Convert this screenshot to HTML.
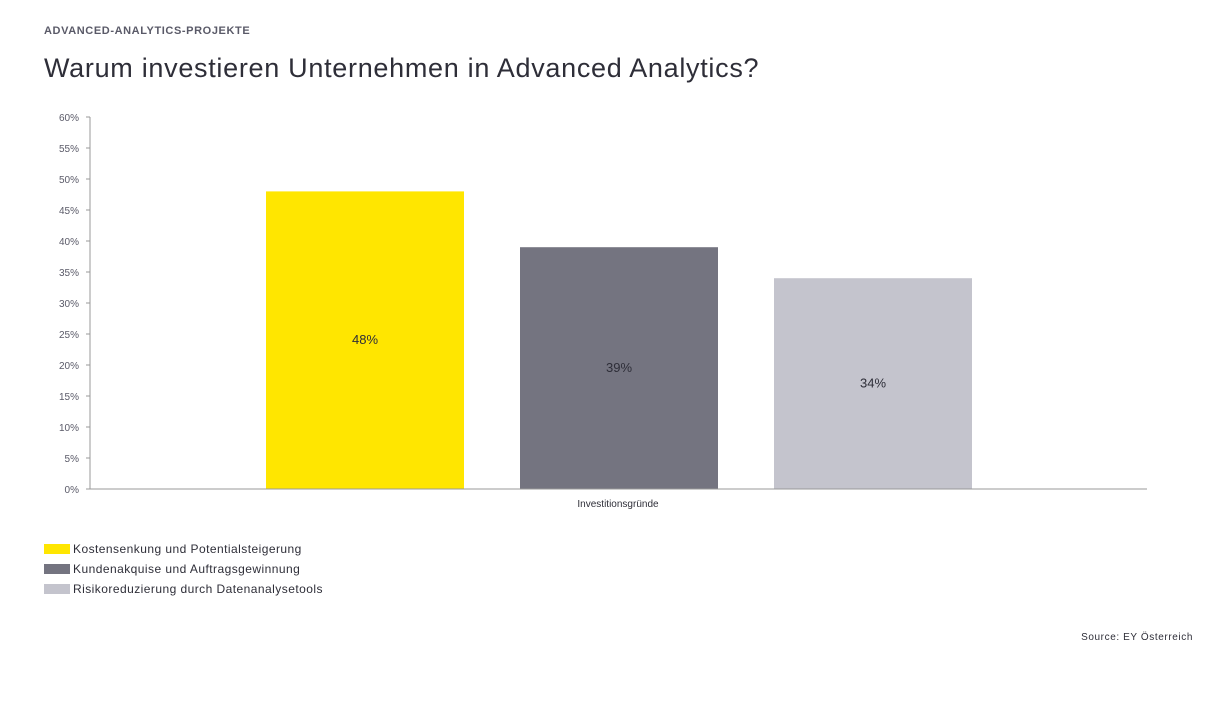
<!DOCTYPE html>
<html><head><meta charset="utf-8"><style>
body{margin:0;width:1207px;height:720px;background:#fff;font-family:"Liberation Sans",sans-serif;position:relative;overflow:hidden}
.kick{position:absolute;left:44px;top:25px;font-size:11px;font-weight:bold;letter-spacing:0.6px;color:#5a5a68}
.title{position:absolute;left:44px;top:53px;font-size:27px;letter-spacing:0.7px;color:#2e2e38}
.leg{position:absolute;left:44px;font-size:12px;letter-spacing:0.45px;color:#2e2e38;height:14px;line-height:14px}
.leg span{display:inline-block;width:26px;height:10px;vertical-align:-1px;margin-right:3px}
.src{position:absolute;right:14px;top:632px;font-size:10px;letter-spacing:0.6px;color:#2e2e38}
</style></head><body>
<div class="kick">ADVANCED-ANALYTICS-PROJEKTE</div>
<div class="title">Warum investieren Unternehmen in Advanced Analytics?</div>
<svg id="chart" width="1207" height="720" style="position:absolute;left:0;top:0"></svg>
<div class="leg" style="top:542px"><span style="background:#ffe600"></span>Kostensenkung und Potentialsteigerung</div>
<div class="leg" style="top:562px"><span style="background:#747480"></span>Kundenakquise und Auftragsgewinnung</div>
<div class="leg" style="top:582px"><span style="background:#c4c4cd"></span>Risikoreduzierung durch Datenanalysetools</div>
<div class="src">Source: EY Österreich</div>
<script>
const categories=["Kostensenkung und Potentialsteigerung","Kundenakquise und Auftragsgewinnung","Risikoreduzierung durch Datenanalysetools"];
const values=[48,39,34];
const colors=["#ffe600","#747480","#c4c4cd"];
const ticks=[0,5,10,15,20,25,30,35,40,45,50,55,60];
const NS="http://www.w3.org/2000/svg";
const svg=document.getElementById('chart');
const x0=90,x1=1147,y0=489,y1=117;
const y=v=>y0-(v/60)*(y0-y1);
function mk(t,a){const e=document.createElementNS(NS,t);for(const k in a)e.setAttribute(k,a[k]);svg.appendChild(e);return e;}
ticks.forEach(t=>{
  const l=mk('line',{x1:86,x2:90,y1:y(t),y2:y(t),stroke:'#999','stroke-width':1});
  
  
  const tx=mk('text',{x:79,y:y(t)+4,'text-anchor':'end','font-size':10,fill:'#5a5a68','font-family':'Liberation Sans'});
  tx.textContent=t+'%';
  
  
});
const ax=mk('line',{x1:90,x2:90,y1:117,y2:489,stroke:'#999'});


const bw=198,step=254,start=266;
values.forEach((v,i)=>{
  const bx=start+i*step;
  const r=mk('rect',{x:bx,y:y(v),width:bw,height:y0-y(v),fill:colors[i]});
  
  
  const t=mk('text',{x:bx+bw/2,y:(y(v)+y0)/2+4,'text-anchor':'middle','font-size':13,fill:'#2e2e38','font-family':'Liberation Sans'});
  t.textContent=v+'%';
  
  
});
const xa=mk('line',{x1:86,x2:x1,y1:489,y2:489,stroke:'#999'});


const xl=mk('text',{x:618,y:507,'text-anchor':'middle','font-size':10,fill:'#2e2e38','font-family':'Liberation Sans'});
xl.textContent='Investitionsgründe';


</script>
</body></html>
